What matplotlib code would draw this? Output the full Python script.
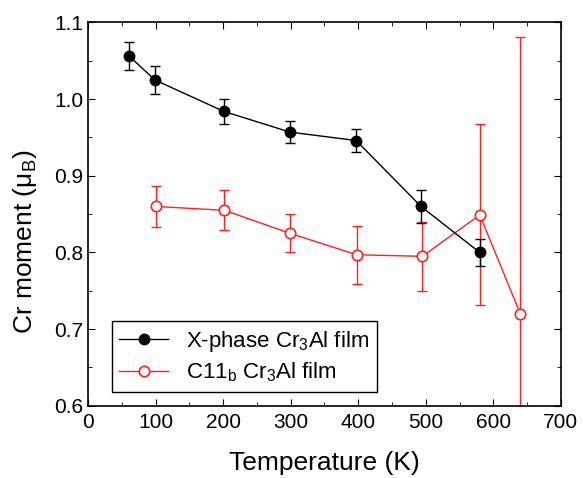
import matplotlib
matplotlib.use('Agg')
import matplotlib.pyplot as plt
from matplotlib.ticker import MultipleLocator

plt.rcParams['font.family'] = ['Liberation Sans', 'DejaVu Sans']

# X-phase Cr3Al film
t_x = [61, 99, 201, 299, 397, 493, 580]
m_x = [1.056, 1.025, 0.984, 0.957, 0.946, 0.860, 0.800]
e_x = [0.018, 0.018, 0.016, 0.014, 0.015, 0.022, 0.017]

# C11b Cr3Al film
t_c = [101, 202, 299, 398, 495, 580, 640]
m_c = [0.860, 0.855, 0.825, 0.797, 0.795, 0.849, 0.720]
e_c = [0.027, 0.026, 0.025, 0.038, 0.045, 0.118, 0.361]

red = '#ff2020'

fig = plt.figure(figsize=(5.83, 4.78), dpi=100)
ax = fig.add_axes([0.151, 0.151, 0.811, 0.802])

# error bars
ax.errorbar(t_c, m_c, yerr=e_c, fmt='none', ecolor=red, elinewidth=1,
            capsize=3.5, capthick=1, zorder=2)
ax.errorbar(t_x, m_x, yerr=e_x, fmt='none', ecolor='black', elinewidth=1,
            capsize=3.5, capthick=1, zorder=3)

# lines + markers
ax.plot(t_x, m_x, color='black', marker='o', markersize=7.5, linewidth=1,
        label='X-phase Cr$_\\mathregular{3}$Al film', zorder=4)
ax.plot(t_c, m_c, color=red, marker='o', markersize=7.5, linewidth=1,
        markerfacecolor='white', markeredgewidth=1.2,
        label='C11$_\\mathregular{b}$ Cr$_\\mathregular{3}$Al film', zorder=3)

ax.set_xlim(0, 700)
ax.set_ylim(0.6, 1.1)
ax.xaxis.set_major_locator(MultipleLocator(100))
ax.xaxis.set_minor_locator(MultipleLocator(50))
ax.yaxis.set_major_locator(MultipleLocator(0.1))
ax.yaxis.set_minor_locator(MultipleLocator(0.05))
ax.tick_params(which='both', direction='in', top=True, right=True, labelsize=15)
ax.tick_params(axis='x', pad=5)
ax.tick_params(which='major', length=5)
ax.tick_params(which='minor', length=3)
for s in ax.spines.values():
    s.set_linewidth(1.2)

ax.set_xlabel('Temperature (K)', fontsize=19, labelpad=14)
ax.set_ylabel('Cr moment (μ$_\\mathregular{B}$)', fontsize=19)
ax.yaxis.set_label_coords(-0.103, 0.428)

leg = ax.legend(loc='lower left', bbox_to_anchor=(0.05, 0.036), fontsize=16,
                frameon=True, fancybox=False, edgecolor='black', framealpha=1,
                handlelength=2.2, handletextpad=0.8, borderpad=0.35,
                labelspacing=0.3, borderaxespad=0)
leg.get_frame().set_linewidth(1)

fig.savefig('out.png', dpi=100)
